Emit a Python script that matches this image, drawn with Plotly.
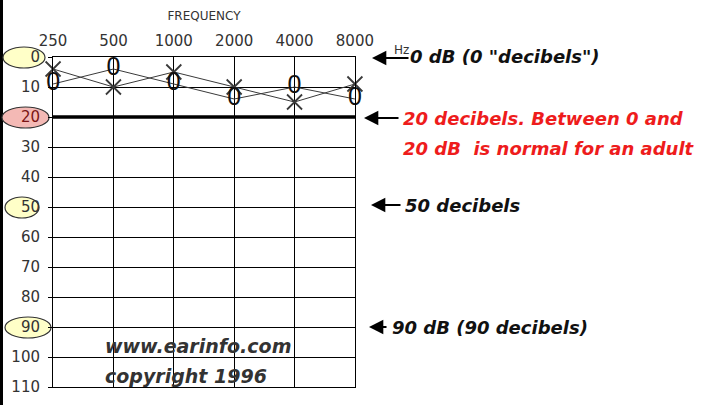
import math
import plotly.graph_objects as go

# ---- data ----
frequencies = [250, 500, 1000, 2000, 4000, 8000]
x_ear_db = [4, 10, 5, 10, 15, 9]      # "X" symbols
o_ear_db = [9, 4, 9, 14, 10, 14]      # "O" symbols
db_ticks = [0, 10, 20, 30, 40, 50, 60, 70, 80, 90, 100, 110]
highlight_db = [0, 20, 50, 90]
normal_limit_db = 20
db_max = 110

# ---- geometry helpers (pixels of the 721x405 canvas) ----
W, H = 721, 405
L, R, T, B = 53, 355, 57, 387
def px(x):
    return (x - L) / (R - L)
def py(y):
    return (B - y) / (B - T)

fig = go.Figure()

fig.add_trace(go.Scatter(
    x=frequencies, y=x_ear_db, mode="lines+markers", cliponaxis=False,
    line=dict(color="#3a3a3a", width=1),
    marker=dict(symbol="x-thin-open", size=15, line=dict(color="#111", width=1.8)),
    hoverinfo="x+y", showlegend=False))

fig.add_trace(go.Scatter(
    x=frequencies, y=o_ear_db, mode="lines+text", cliponaxis=False,
    text=["0"] * len(frequencies), textposition="middle center",
    textfont=dict(family="Liberation Sans, Arial", size=25, color="#111"),
    line=dict(color="#3a3a3a", width=1),
    hoverinfo="x+y", showlegend=False))

shapes = []
# black stripe at left edge
shapes.append(dict(type="rect", xref="paper", yref="paper",
                   x0=px(0), x1=px(3), y0=py(H), y1=py(0),
                   fillcolor="black", line=dict(width=0), layer="below"))
# highlight ellipses behind selected dB labels
ell_x = {0: (3, 45), 20: (2, 49), 50: (5, 39), 90: (5, 51)}
for v in highlight_db:
    fill = "#f4b9b5" if v == normal_limit_db else "#ffffc8"
    x0, x1 = ell_x[v]
    shapes.append(dict(type="circle", xref="paper", yref="paper",
                       xsizemode="pixel", xanchor=0, x0=x0 - L, x1=x1 - L,
                       ysizemode="pixel", yanchor=1 - v / db_max, y0=-11, y1=10,
                       fillcolor=fill, line=dict(color="#333", width=1.2), layer="below"))
# thick normal-hearing line
shapes.append(dict(type="line", xref="paper", yref="y", x0=0, x1=1,
                   y0=normal_limit_db, y1=normal_limit_db,
                   line=dict(color="black", width=3.5), layer="above"))
fig.update_layout(shapes=shapes)

tick_font = dict(family="DejaVu Sans, Verdana", size=15, color="#333")
ann_font = dict(family="DejaVu Sans", size=18, color="#111", style="italic", weight="bold")
red_font = dict(family="DejaVu Sans", size=18, color="#ee1c1c", style="italic", weight="bold")
wm_font = dict(family="DejaVu Sans", size=19, color="#333", style="italic", weight="bold")

annotations = []
def arrow(x_head, x_tail, y):
    annotations.append(dict(xref="paper", yref="paper", x=px(x_head), y=py(y),
                            ax=x_tail - x_head, ay=0, text="", showarrow=True,
                            arrowhead=2, arrowsize=1.3, arrowwidth=2.2, arrowcolor="black"))
def text(x_left, y, s, font):
    annotations.append(dict(xref="paper", yref="paper", x=px(x_left), y=py(y),
                            xanchor="left", yanchor="middle", text=s, showarrow=False, font=font))

arrow(372, 410, 58)
text(408, 56, '0 dB (0 "decibels")', ann_font)
arrow(364, 400, 118)
text(401, 118, "20 decibels. Between 0 and", red_font)
text(401, 148, "20 dB&nbsp; is normal for an adult", red_font)
arrow(371, 402, 205)
text(403, 205, "50 decibels", ann_font)
arrow(369, 388, 327)
text(390, 327, "90 dB (90 decibels)", ann_font)
text(103, 346, "www.earinfo.com", wm_font)
text(103, 376, "copyright 1996", wm_font)
annotations.append(dict(xref="paper", yref="paper", x=px(411), y=py(41), text="Hz",
                        showarrow=False, font=dict(family="DejaVu Sans", size=12, color="#333")))
fig.update_layout(annotations=annotations)

y_ticktext = [f"<span style='color:#7a1414'>{v}</span>" if v == normal_limit_db else str(v)
              for v in db_ticks]

pad = 0.0004
fig.update_xaxes(
    type="log", range=[math.log10(frequencies[0]) - pad, math.log10(frequencies[-1]) + pad],
    side="top", tickvals=frequencies, ticktext=[str(f) for f in frequencies],
    tickfont=tick_font, ticks="", ticklabelstandoff=4,
    showgrid=True, gridcolor="black", gridwidth=1,
    showline=True, linecolor="black", linewidth=1, mirror=True, zeroline=False,
    title=dict(text="FREQUENCY", font=dict(family="DejaVu Sans", size=12, color="#333"), standoff=8))
fig.update_yaxes(
    range=[db_max, 0], tickvals=db_ticks, ticktext=y_ticktext, tickfont=tick_font,
    ticks="outside", ticklen=4, tickcolor="black", ticklabelstandoff=5,
    showgrid=True, gridcolor="black", gridwidth=1,
    showline=True, linecolor="black", linewidth=1, mirror=True, zeroline=False)

fig.update_layout(
    width=W, height=H, margin=dict(l=L, r=W - R, t=T, b=H - B, autoexpand=False),
    paper_bgcolor="white", plot_bgcolor="white", showlegend=False)

fig.write_html("out.html", config={"displayModeBar": False},
               post_script="document.body.style.margin='0';")
